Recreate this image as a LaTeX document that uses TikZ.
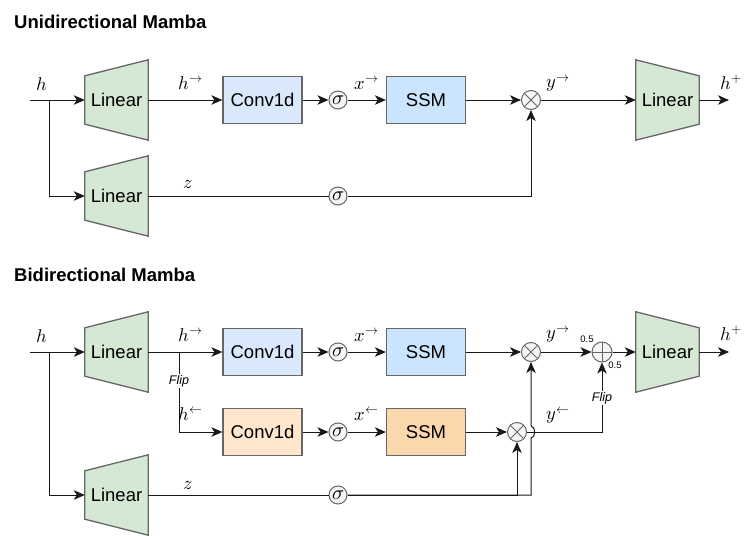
\documentclass[tikz,border=0pt]{standalone}
\usepackage{fontspec}
\usepackage{unicode-math}
\setmathfont{Latin Modern Math}
\setsansfont{Liberation Sans}
\usepackage{tikz}
\usetikzlibrary{arrows.meta,calc,backgrounds}
\definecolor{lingreen}{HTML}{D5E8D4}
\definecolor{boxgray}{HTML}{666666}
\definecolor{convblue}{HTML}{DAE8FC}
\definecolor{ssmblue}{HTML}{CCE5FF}
\definecolor{convorange}{HTML}{FFE6CC}
\definecolor{ssmorange}{HTML}{FAD7AC}
\definecolor{opfill}{HTML}{F5F5F5}
\tikzset{>={Stealth[length=11pt,width=9.5pt,inset=3pt]},
 title/.style={anchor=west,inner sep=0pt,font=\sffamily\bfseries\fontsize{18.5}{22}\selectfont},
 lin/.style={minimum width=63pt,minimum height=48pt,inner sep=0pt,font=\sffamily\fontsize{18.5}{22}\selectfont},
 linshape/.style={draw=boxgray,fill=lingreen,line width=1.3pt,line join=miter},
 blk/.style={draw=boxgray,line width=1.3pt,minimum width=79pt,minimum height=47pt,inner sep=0pt,font=\sffamily\fontsize{18.5}{22}\selectfont},
 sig/.style={circle,draw=boxgray,fill=opfill,line width=1pt,minimum size=18pt,inner sep=0pt,font=\fontsize{20}{22}\selectfont},
 mul/.style={circle,draw=boxgray,fill=opfill,line width=1pt,minimum size=19pt,inner sep=0pt,
  path picture={\draw[boxgray,line width=1pt] (path picture bounding box.north west)--(path picture bounding box.south east)
   (path picture bounding box.north east)--(path picture bounding box.south west);}},
 add/.style={circle,draw=boxgray,fill=opfill,line width=1pt,minimum size=20pt,inner sep=0pt,
  path picture={\draw[boxgray,line width=1pt] (path picture bounding box.north)--(path picture bounding box.south)
   (path picture bounding box.east)--(path picture bounding box.west);}},
 lbl/.style={font=\fontsize{18.5}{20}\selectfont},
 flip/.style={fill=white,inner sep=1pt,font=\sffamily\itshape\fontsize{12.5}{14}\selectfont},
 wt/.style={inner sep=0pt,font=\sffamily\fontsize{9.5}{10}\selectfont},
 ln/.style={line width=1pt,black!90},
 arr/.style={->,line width=1pt,black!90}}

\begin{document}
\begin{tikzpicture}[x=1pt,y=-1pt]
\useasboundingbox (0,0) rectangle (748,536);

% Unidirectional
\node[title] (utitle) at (14,22) {Unidirectional Mamba};
\node[lin] (ulin) at (116.5,100) {Linear};
\node[lin] (uzlin) at (116.5,196) {Linear};
\node[blk,fill=convblue] (uconv) at (262.5,100) {Conv1d};
\node[sig] (usig) at (338,100) {$\sigma$};
\node[blk,fill=ssmblue] (ussm) at (426,100) {SSM};
\node[mul] (umul) at (531,100) {};
\node[sig] (uzsig) at (338,196) {$\sigma$};
\node[lin] (uout) at (667.5,100) {Linear};
\coordinate (uin) at (30,100);
\coordinate (usplit) at (49,100);
\coordinate (uend) at (729,100);

% Bidirectional
\node[title] (btitle) at (14,275) {Bidirectional Mamba};
\node[lin] (blin) at (116.5,352) {Linear};
\node[lin] (bzlin) at (116.5,495) {Linear};
\node[blk,fill=convblue] (bconvf) at (262.5,352) {Conv1d};
\node[sig] (bsigf) at (338,352) {$\sigma$};
\node[blk,fill=ssmblue] (bssmf) at (426,352) {SSM};
\node[mul] (bmulf) at (531,352) {};
\node[blk,fill=convorange] (bconvb) at (262.5,432) {Conv1d};
\node[sig] (bsigb) at (338,432) {$\sigma$};
\node[blk,fill=ssmorange] (bssmb) at (426,432) {SSM};
\node[mul] (bmulb) at (517,432) {};
\node[sig] (bzsig) at (338,495) {$\sigma$};
\node[add] (badd) at (602,352) {};
\node[lin] (bout) at (667.5,352) {Linear};
\coordinate (bin) at (30,352);
\coordinate (bsplit) at (49,352);
\coordinate (bflip) at (179,352);
\coordinate (bend) at (729,352);

% trapezoids
\begin{scope}[on background layer]
\foreach \n in {ulin,uzlin,blin,bzlin}
 \draw[linshape] (\n.north west) -- ([yshift=16pt]\n.north east) -- ([yshift=-16pt]\n.south east) -- (\n.south west) -- cycle;
\foreach \n in {uout,bout}
 \draw[linshape] ([yshift=16pt]\n.north west) -- (\n.north east) -- (\n.south east) -- ([yshift=-16pt]\n.south west) -- cycle;
\end{scope}

% connectors, top
\draw[ln] (uin) -- (usplit);
\draw[arr] (usplit) -- (ulin);
\draw[arr] (usplit) |- (uzlin);
\draw[arr] (ulin) -- (uconv);
\draw[arr] (uconv) -- (usig);
\draw[arr] (usig) -- (ussm);
\draw[arr] (ussm) -- (umul);
\draw[arr] (umul) -- (uout);
\draw[arr] (uout) -- (uend);
\draw[ln] (uzlin) -- (uzsig);
\draw[arr] (uzsig) -| (umul);

% connectors, bottom
\draw[ln] (bin) -- (bsplit);
\draw[arr] (bsplit) -- (blin);
\draw[arr] (bsplit) |- (bzlin);
\draw[arr] (blin) -- (bconvf);
\draw[arr] (bflip) |- (bconvb);
\draw[arr] (bconvf) -- (bsigf);
\draw[arr] (bsigf) -- (bssmf);
\draw[arr] (bssmf) -- (bmulf);
\draw[arr] (bmulf) -- (badd);
\draw[arr] (badd) -- (bout);
\draw[arr] (bout) -- (bend);
\draw[arr] (bconvb) -- (bsigb);
\draw[arr] (bsigb) -- (bssmb);
\draw[arr] (bssmb) -- (bmulb);
\draw[arr] (bmulb) -| (badd);
\draw[ln] (bzlin) -- (bzsig);
\draw[arr] (bzsig) -| (bmulb);
\draw[arr] (bzsig.east) -- (bmulf.south |- bzsig) -- ($(bmulf.south |- bmulb)+(0,6)$)
 arc[start angle=-90,end angle=90,x radius=3.5pt,y radius=6pt] -- (bmulf.south);

% labels
\node[lbl] (uh) at (42,84) {$h$};
\node[lbl] (uhf) at (191,83) {$h^{\rightarrow}$};
\node[lbl] (uxf) at (367,83) {$x^{\rightarrow}$};
\node[lbl] (uyf) at (558,83) {$y^{\rightarrow}$};
\node[lbl] (uhp) at (731,82) {$h^{+}$};
\node[lbl] (uz) at (188,185) {$z$};
\node[lbl] (bh) at (42,336) {$h$};
\node[lbl] (bhf) at (191,335) {$h^{\rightarrow}$};
\node[lbl] (bxf) at (367,335) {$x^{\rightarrow}$};
\node[lbl] (byf) at (558,334) {$y^{\rightarrow}$};
\node[lbl] (bhp) at (731,333) {$h^{+}$};
\node[lbl] (bhb) at (191,414) {$h^{\leftarrow}$};
\node[lbl] (bxb) at (367,414) {$x^{\leftarrow}$};
\node[lbl] (byb) at (558,415) {$y^{\leftarrow}$};
\node[lbl] (bz) at (188,486) {$z$};
\node[flip] (fl1) at (179,381) {Flip};
\node[flip] (fl2) at (602,398) {Flip};
\node[wt] (w1) at (587,339) {0.5};
\node[wt] (w2) at (615,365) {0.5};
\end{tikzpicture}
\end{document}
